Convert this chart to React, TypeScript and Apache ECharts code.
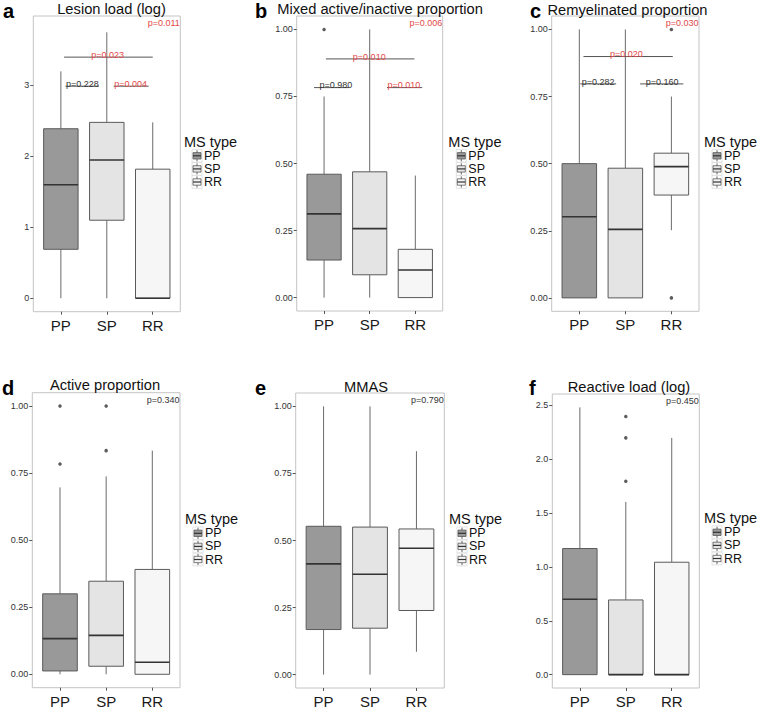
import React, { useEffect, useRef } from "react";
import * as echarts from "echarts";

const categories = ["PP", "SP", "RR"];

// each row: [min, Q1, median, Q3, max] for PP, SP, RR
const lesionLoad = [
  [0, 0.69, 1.6, 2.39, 3.2],
  [0, 1.1, 1.95, 2.48, 3.75],
  [0, 0, 0, 1.82, 2.48],
];
const lesionOutliers: number[][] = [];
const mixedProp = [
  [0, 0.14, 0.312, 0.46, 0.75],
  [0, 0.085, 0.257, 0.469, 1.0],
  [0, 0, 0.103, 0.18, 0.455],
];
const mixedOutliers = [[1, 1.0]];
const remyProp = [
  [0, 0, 0.302, 0.5, 1.0],
  [0, 0, 0.255, 0.483, 1.0],
  [0.252, 0.383, 0.489, 0.539, 0.75],
];
const remyOutliers = [[3, 1.0], [3, 0.0]];
const activeProp = [
  [0, 0.0125, 0.133, 0.3, 0.697],
  [0, 0.03, 0.145, 0.347, 0.738],
  [0, 0, 0.045, 0.391, 0.834],
];
const activeOutliers = [[1, 1.0], [1, 0.784], [2, 1.0], [2, 0.834]];
const mmas = [
  [0, 0.168, 0.413, 0.553, 1.0],
  [0, 0.173, 0.374, 0.55, 1.0],
  [0.085, 0.239, 0.471, 0.543, 0.833],
];
const mmasOutliers: number[][] = [];
const reactiveLoad = [
  [0, 0, 0.699, 1.17, 2.48],
  [0, 0, 0, 0.693, 1.603],
  [0, 0, 0, 1.043, 2.197],
];
const reactiveOutliers = [[2, 2.395], [2, 2.197], [2, 1.795]];

// pairwise comparisons: [x from, x to, y, label x]
const lesionComparisons = [[1.07, 3.0, 3.4, 2.02], [1.1, 1.83, 2.99, 1.47], [2.15, 2.91, 2.99, 2.52]];
const lesionCompLabels = ["p=0.023", "p=0.228", "p=0.004"];
const lesionCompSig = [true, false, true];
const mixedComparisons = [[1.04, 2.98, 0.89, 1.99], [0.78, 1.55, 0.783, 1.26], [2.38, 3.15, 0.783, 2.75]];
const mixedCompLabels = ["p=0.010", "p=0.980", "p=0.010"];
const mixedCompSig = [true, false, true];
const remyComparisons = [[1.09, 3.03, 0.899, 2.02], [1.02, 1.8, 0.797, 1.41], [2.32, 3.26, 0.797, 2.8]];
const remyCompLabels = ["p=0.020", "p=0.282", "p=0.160"];
const remyCompSig = [true, false, false];

const panelTitles = [
  "Lesion load (log)",
  "Mixed active/inactive proportion",
  "Remyelinated proportion",
  "Active proportion",
  "MMAS",
  "Reactive load (log)",
];
const panelLetters = ["a", "b", "c", "d", "e", "f"];
const overallPValues = ["p=0.011", "p=0.006", "p=0.030", "p=0.340", "p=0.790", "p=0.450"];
const overallSig = [true, true, true, false, false, false];

const logTicks = [0, 1, 2, 3];
const proportionTicks = [0, 0.25, 0.5, 0.75, 1];
const reactiveTicks = [0, 0.5, 1, 1.5, 2, 2.5];
const legendTitle = "MS type";

const panelBoxes = [lesionLoad, mixedProp, remyProp, activeProp, mmas, reactiveLoad];
const panelOutliers = [lesionOutliers, mixedOutliers, remyOutliers, activeOutliers, mmasOutliers, reactiveOutliers];
const panelComparisons = [lesionComparisons, mixedComparisons, remyComparisons, [], [], []];
const panelCompLabels = [lesionCompLabels, mixedCompLabels, remyCompLabels, [], [], []];
const panelCompSig = [lesionCompSig, mixedCompSig, remyCompSig, [], [], []];
const panelTicks = [logTicks, proportionTicks, proportionTicks, proportionTicks, proportionTicks, reactiveTicks];
const panelDecimals = [0, 2, 2, 2, 2, 1];

// layout (positions only)
const layout = [
  { grid: { left: 33.3, top: 16, width: 147, height: 295.7 }, yMin: -0.19, yMax: 3.98, title: [111.5, 9], letter: [3, 10.5], legend: [184, 141.5] },
  { grid: { left: 296.7, top: 16, width: 146, height: 295 }, yMin: -0.05, yMax: 1.05, title: [380, 9], letter: [255, 10.5], legend: [448.3, 141.5] },
  { grid: { left: 551.7, top: 16, width: 147.3, height: 295.3 }, yMin: -0.05, yMax: 1.05, title: [627.5, 9.5], letter: [530, 10.5], legend: [704, 141.5] },
  { grid: { left: 32.3, top: 392.7, width: 147.7, height: 295 }, yMin: -0.05, yMax: 1.05, title: [105, 385], letter: [2, 388], legend: [185, 519] },
  { grid: { left: 295.7, top: 393, width: 148.6, height: 295 }, yMin: -0.05, yMax: 1.05, title: [366, 386.5], letter: [255, 388], legend: [449, 519] },
  { grid: { left: 552.3, top: 394, width: 147, height: 294.3 }, yMin: -0.124, yMax: 2.604, title: [629, 386.5], letter: [529, 388], legend: [704, 518] },
];

const FONT = "'Liberation Sans', Arial, Helvetica, sans-serif";
const boxFills = ["#999999", "#e4e4e4", "#f6f6f6"];
const RED = "#e34848";
const DARK = "#333333";
const FRAME = "#c4c4c4";

function textStyle(text: string, font: string, fill: string, align: string, vAlign: string, lineHeight?: number) {
  const s: any = { text, font, fill, align, verticalAlign: vAlign, textAlign: align, textVerticalAlign: vAlign };
  if (lineHeight) s.lineHeight = lineHeight;
  return s;
}

export default function App() {
  const ref = useRef<HTMLDivElement>(null);

  useEffect(() => {
    if (!ref.current) return;
    const chart = echarts.init(ref.current, undefined, { renderer: "svg" });

    const grids = layout.map((l) => ({
      ...l.grid,
      show: true,
      borderColor: FRAME,
      borderWidth: 1,
      backgroundColor: "#ffffff",
    }));

    const xAxes = layout.map((_, i) => ({
      type: "value",
      gridIndex: i,
      position: "bottom",
      min: 0.4,
      max: 3.6,
      splitLine: { show: false },
      axisLine: { show: false, onZero: false },
      axisTick: { show: true, customValues: [1, 2, 3], length: 3, lineStyle: { color: "#555", width: 1 } },
      axisLabel: {
        customValues: [1, 2, 3],
        formatter: (v: number) => categories[Math.round(v) - 1] ?? "",
        fontSize: 15,
        fontFamily: FONT,
        color: "#1a1a1a",
        margin: 6,
      },
    }));

    const yAxes = layout.map((l, i) => ({
      type: "value",
      gridIndex: i,
      position: "left",
      min: l.yMin,
      max: l.yMax,
      splitLine: { show: false },
      axisLine: { show: false, onZero: false },
      axisTick: { show: true, customValues: panelTicks[i], length: 3, lineStyle: { color: "#555", width: 1 } },
      axisLabel: {
        customValues: panelTicks[i],
        formatter: (v: number) => v.toFixed(panelDecimals[i]),
        fontSize: 9,
        fontFamily: FONT,
        color: "#333",
        margin: 4,
      },
    }));

    const series: any[] = [];
    layout.forEach((l, i) => {
      const boxData = panelBoxes[i].map((row, k) => [k + 1, ...row]);
      series.push({
        type: "custom",
        xAxisIndex: i,
        yAxisIndex: i,
        data: boxData,
        encode: { x: 0, y: [1, 2, 3, 4, 5] },
        renderItem: (params: any, api: any) => {
          const x = api.value(0);
          const lo = api.coord([x, api.value(1)]);
          const q1 = api.coord([x, api.value(2)]);
          const md = api.coord([x, api.value(3)]);
          const q3 = api.coord([x, api.value(4)]);
          const hi = api.coord([x, api.value(5)]);
          const w = api.size([0.75, 0])[0];
          const fill = boxFills[params.dataIndex];
          return {
            type: "group",
            children: [
              { type: "line", shape: { x1: lo[0], y1: lo[1], x2: q1[0], y2: q1[1] }, style: { stroke: "#6b6b6b", lineWidth: 1 } },
              { type: "line", shape: { x1: q3[0], y1: q3[1], x2: hi[0], y2: hi[1] }, style: { stroke: "#6b6b6b", lineWidth: 1 } },
              { type: "rect", shape: { x: q3[0] - w / 2, y: q3[1], width: w, height: q1[1] - q3[1] }, style: { fill, stroke: "#5a5a5a", lineWidth: 1 } },
              { type: "line", shape: { x1: md[0] - w / 2, y1: md[1], x2: md[0] + w / 2, y2: md[1] }, style: { stroke: DARK, lineWidth: 1.6 } },
            ],
          };
        },
      });
      if (panelOutliers[i].length) {
        series.push({
          type: "scatter",
          xAxisIndex: i,
          yAxisIndex: i,
          data: panelOutliers[i],
          symbol: "circle",
          symbolSize: 3.5,
          itemStyle: { color: DARK },
        });
      }
      if (panelComparisons[i].length) {
        const labels = panelCompLabels[i];
        const sig = panelCompSig[i];
        series.push({
          type: "custom",
          xAxisIndex: i,
          yAxisIndex: i,
          data: panelComparisons[i],
          encode: { x: [0, 1, 3], y: 2 },
          z: 5,
          renderItem: (params: any, api: any) => {
            const y = api.value(2);
            const a = api.coord([api.value(0), y]);
            const b = api.coord([api.value(1), y]);
            const t = api.coord([api.value(3), y]);
            const idx = params.dataIndex;
            return {
              type: "group",
              children: [
                { type: "line", shape: { x1: a[0], y1: a[1], x2: b[0], y2: b[1] }, style: { stroke: "#555", lineWidth: 1 } },
                {
                  type: "text",
                  x: t[0],
                  y: t[1] + 2.2,
                  style: textStyle(labels[idx], `9px ${FONT}`, sig[idx] ? RED : DARK, "center", "bottom"),
                },
              ],
            };
          },
        });
      }
      series.push({
        type: "custom",
        xAxisIndex: i,
        yAxisIndex: i,
        data: [[3.6, l.yMax]],
        encode: { x: 0, y: 1 },
        z: 5,
        renderItem: (_params: any, api: any) => {
          const p = api.coord([api.value(0), api.value(1)]);
          return {
            type: "text",
            x: p[0] - 0.5,
            y: p[1] + 2.5,
            style: textStyle(overallPValues[i], `9px ${FONT}`, overallSig[i] ? RED : DARK, "right", "top"),
          };
        },
      });
    });

    const graphics: any[] = [];
    layout.forEach((l, i) => {
      graphics.push({
        type: "text",
        x: l.title[0],
        y: l.title[1],
        style: textStyle(panelTitles[i], `14.7px ${FONT}`, "#111", "center", "middle"),
      });
      graphics.push({
        type: "text",
        x: l.letter[0],
        y: l.letter[1],
        style: textStyle(panelLetters[i], `bold 20px ${FONT}`, "#000", "left", "middle"),
      });
      graphics.push({
        type: "text",
        x: l.legend[0],
        y: l.legend[1],
        style: textStyle(legendTitle, `14.5px ${FONT}`, "#111", "left", "middle"),
      });
      categories.forEach((c, k) => {
        const cx = l.legend[0] + 13;
        const cy = l.legend[1] + 14.3 + k * 13.1;
        graphics.push({
          type: "rect",
          shape: { x: cx - 5, y: cy - 6.4, width: 10, height: 12.8 },
          style: { fill: "#ffffff", stroke: "#dcdcdc", lineWidth: 0.8 },
        });
        graphics.push({
          type: "line",
          shape: { x1: cx, y1: cy - 5.6, x2: cx, y2: cy + 5.6 },
          style: { stroke: "#666", lineWidth: 1 },
        });
        graphics.push({
          type: "rect",
          shape: { x: cx - 4, y: cy - 3.2, width: 8, height: 6.4 },
          style: { fill: boxFills[k], stroke: "#5a5a5a", lineWidth: 0.8 },
        });
        graphics.push({
          type: "line",
          shape: { x1: cx - 4, y1: cy, x2: cx + 4, y2: cy },
          style: { stroke: DARK, lineWidth: 1.2 },
        });
        graphics.push({
          type: "text",
          x: l.legend[0] + 20,
          y: cy,
          style: textStyle(c, `12.5px ${FONT}`, "#111", "left", "middle", 12.5),
        });
      });
    });

    chart.setOption({
      animation: false,
      backgroundColor: "#ffffff",
      grid: grids,
      xAxis: xAxes,
      yAxis: yAxes,
      series,
      graphic: graphics,
    });

    return () => chart.dispose();
  }, []);

  return (
    <div
      ref={ref}
      style={{ position: "absolute", left: 0, top: 0, width: 759, height: 709, background: "#fff" }}
    />
  );
}
